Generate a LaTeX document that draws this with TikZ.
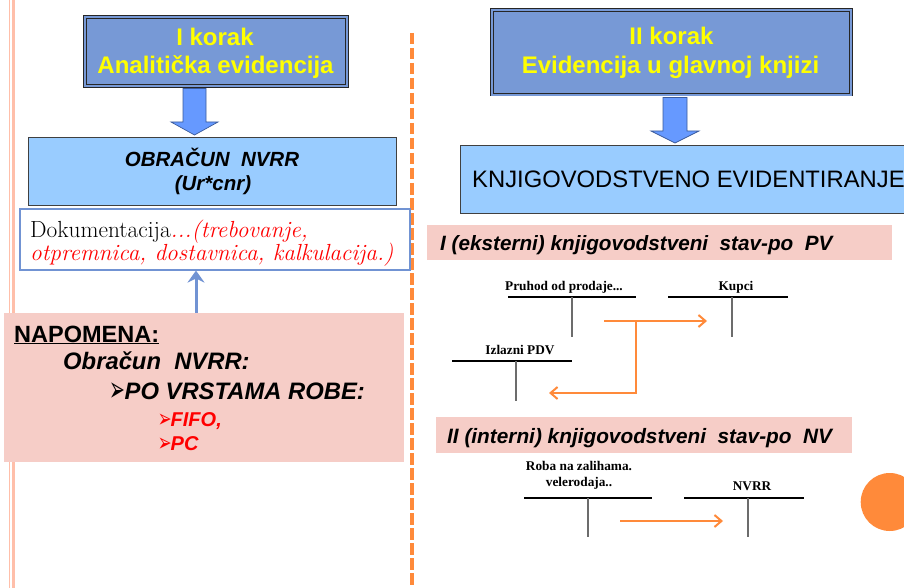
\documentclass[tikz,border=0pt]{standalone}
\usepackage{fontspec}
\usepackage{graphicx}
\newfontfamily\arialf{Liberation Sans}
\newfontfamily\timesf{Liberation Serif}
\newfontfamily\dejavuf{DejaVu Sans}
\usetikzlibrary{arrows.meta}
\definecolor{titleblue}{HTML}{7799D6}
\definecolor{arrowblue}{HTML}{6699FF}
\definecolor{arrowedge}{HTML}{3B5B9B}
\definecolor{lightblue}{HTML}{99CCFF}
\definecolor{docblue}{HTML}{7193D3}
\definecolor{notepink}{HTML}{F6CDC7}
\definecolor{accorange}{HTML}{FF8A3A}
\definecolor{bordpink}{HTML}{FFBFAA}
\definecolor{ttitle}{HTML}{FFFF00}
\definecolor{redtxt}{HTML}{FF0000}
\newcommand{\arrowbullet}{\raisebox{-2pt}{\scalebox{0.7}[1.3]{➢}}}
\newcommand{\arrowbulletsm}{\raisebox{-1pt}{\scalebox{0.75}[1.15]{➢}}}
\tikzset{
  titlebox/.style={draw=black!85, line width=0.9pt, double=titleblue, double distance=2pt, fill=titleblue, inner sep=0pt},
  bluebox/.style={draw=black!75, line width=0.8pt, fill=lightblue, inner sep=0pt},
  titletext/.style={font=\arialf\bfseries\fontsize{24}{28}\selectfont, text=ttitle, inner sep=0pt, anchor=base},
  blockarrow/.style={fill=arrowblue, draw=arrowedge, line width=0.7pt},
  bandbox/.style={fill=notepink, draw=none, inner sep=0pt},
  bandtext/.style={font=\arialf\bfseries\itshape\fontsize{20.7}{24}\selectfont, inner sep=0pt, anchor=base west},
  acclabel/.style={font=\timesf\bfseries\fontsize{13.3}{16}\selectfont, inner sep=0pt, anchor=base},
  acch/.style={draw=black, line width=1.2pt},
  accv/.style={draw=gray!85!black, line width=2pt},
  oarrow/.style={draw=accorange, line width=2pt, -{Straight Barb[length=7pt,width=12pt,line width=2pt]}},
  notetext/.style={inner sep=0pt, anchor=base west},
  bulletbig/.style={inner sep=0pt, anchor=base east, font=\dejavuf\fontsize{27}{30}\selectfont},
  bulletsmall/.style={inner sep=0pt, anchor=base east, font=\dejavuf\fontsize{22}{26}\selectfont, text=redtxt},
}
\begin{document}
\begin{tikzpicture}[x=1pt,y=-1pt]
\useasboundingbox (0,0) rectangle (904,588);
\clip (0,0) rectangle (904,588);
% page decorations
\draw[bordpink, line width=1pt] (9.5,0) -- (9.5,588);
\draw[bordpink, line width=3.5pt] (13.3,0) -- (13.3,588);
\draw[accorange, line width=4pt, dash pattern=on 11.5pt off 3.5pt] (411.5,33) -- (411.5,588);
\fill[accorange] (889.7,502) circle (29);

% ---------- left column ----------
\node[titlebox, minimum width=262pt, minimum height=69pt] (k1) at (216,51.5) {};
\node[titletext] (k1a) at (215,45.7) {I korak};
\node[titletext] (k1b) at (215.5,74) {Analitička evidencija};

\draw[blockarrow] (183,88.5) -- (206,88.5) -- (206,122) -- (218,122) -- (194.5,135) -- (171,122) -- (183,122) -- cycle;

\node[bluebox, minimum width=368pt, minimum height=68pt] (obr) at (212,171) {};
\node[inner sep=0pt, anchor=base, font=\arialf\bfseries\itshape\fontsize{20.5}{24}\selectfont] (obra) at (212,166.7) {OBRAČUN \ NVRR};
\node[inner sep=0pt, anchor=base, font=\arialf\bfseries\itshape\fontsize{20.5}{24}\selectfont] (obrb) at (213,190) {(Ur*cnr)};

\node[draw=docblue, line width=2pt, fill=white, minimum width=390pt, minimum height=60.5pt, inner sep=0pt] (doc) at (215,239.3) {};
\node[notetext, font=\fontsize{23.3}{26}\selectfont] (doca) at (30,237) {Dokumentacija\textcolor{redtxt}{\itshape ...(trebovanje,}};
\node[notetext, font=\fontsize{23.3}{26}\selectfont\itshape, text=redtxt] (docb) at (30,260) {otpremnica, dostavnica, kalkulacija.)};

\node[bandbox, minimum width=400pt, minimum height=148.5pt] (nap) at (204,387.25) {};
\coordinate (upx) at (196,0);
\draw[docblue, line width=3pt, -{Stealth[length=12pt,width=17pt,inset=4pt]}] (nap.north -| upx) -- (doc.south -| upx);

\node[notetext, font=\arialf\bfseries\fontsize{23.5}{27}\selectfont] (napa) at (14,342) {\underline{NAPOMENA:}};
\node[notetext, font=\arialf\bfseries\itshape\fontsize{23.8}{27}\selectfont] (napb) at (63,369) {Obračun \ NVRR:};
\node[bulletbig] (napcb) at (126,399) {\arrowbullet};
\node[notetext, font=\arialf\bfseries\itshape\fontsize{23.8}{27}\selectfont] (napc) at (124.5,399) {PO VRSTAMA ROBE:};
\node[bulletsmall] (napdb) at (172,426) {\arrowbulletsm};
\node[notetext, font=\arialf\bfseries\itshape\fontsize{20}{24}\selectfont, text=redtxt] (napd) at (170.5,426) {FIFO,};
\node[bulletsmall] (napeb) at (172,450) {\arrowbulletsm};
\node[notetext, font=\arialf\bfseries\itshape\fontsize{20}{24}\selectfont, text=redtxt] (nape) at (170.5,450) {PC};

% ---------- right column ----------
\node[titlebox, minimum width=359pt, minimum height=84.5pt] (k2) at (671.5,52.3) {};
\node[titletext] (k2a) at (671.5,45) {II korak};
\node[titletext] (k2b) at (670.5,74) {Evidencija u glavnoj knjizi};

\draw[blockarrow] (663,97.5) -- (687,97.5) -- (687,131) -- (699,131) -- (675,143) -- (651,131) -- (663,131) -- cycle;

\node[bluebox, minimum width=460pt, minimum height=68pt] (knj) at (690,179) {};
\node[notetext, font=\arialf\fontsize{23.8}{28}\selectfont] (knja) at (472,187) {KNJIGOVODSTVENO EVIDENTIRANJE};

\node[bandbox, minimum width=465pt, minimum height=35pt] (b1) at (659.5,242.5) {};
\node[bandtext] (b1t) at (440,250) {I (eksterni) knjigovodstveni \ stav-po \ PV};

% T-accounts, external entry
\node[acclabel] (a1) at (564,290) {Pruhod od prodaje...};
\coordinate (a1l) at (508,297); \coordinate (a1r) at (636,297);
\coordinate (a1t) at (572,297); \coordinate (a1b) at (572,337);
\draw[acch] (a1l) -- (a1r); \draw[accv] (a1t) -- (a1b);

\node[acclabel] (a2) at (736,290) {Kupci};
\coordinate (a2l) at (668,297); \coordinate (a2r) at (788,297);
\coordinate (a2t) at (732,297); \coordinate (a2b) at (732,337);
\draw[acch] (a2l) -- (a2r); \draw[accv] (a2t) -- (a2b);

\node[acclabel] (a3) at (520,354) {Izlazni PDV};
\coordinate (a3l) at (452,361); \coordinate (a3r) at (572,361);
\coordinate (a3t) at (516,361); \coordinate (a3b) at (516,401);
\draw[acch] (a3l) -- (a3r); \draw[accv] (a3t) -- (a3b);

\coordinate (f1s) at (604,321); \coordinate (f1e) at (707,321);
\coordinate (f2s) at (636,321); \coordinate (f2m) at (636,393); \coordinate (f2e) at (549,393);
\draw[oarrow] (f1s) -- (f1e);
\draw[oarrow] (f2s) -- (f2m) -- (f2e);

\node[bandbox, minimum width=416pt, minimum height=36pt] (b2) at (644,435) {};
\node[bandtext, font=\arialf\bfseries\itshape\fontsize{20.8}{24}\selectfont] (b2t) at (447,443) {II (interni) knjigovodstveni \ stav-po \ NV};

% T-accounts, internal entry
\node[acclabel] (a4) at (579,470) {Roba na zalihama.};
\node[acclabel] (a4b) at (579,486) {velerodaja..};
\coordinate (a4l) at (524,498); \coordinate (a4r) at (652,498);
\coordinate (a4t) at (588,498); \coordinate (a4bt) at (588,537);
\draw[acch] (a4l) -- (a4r); \draw[accv] (a4t) -- (a4bt);

\node[acclabel] (a5) at (752,490) {NVRR};
\coordinate (a5l) at (684,498); \coordinate (a5r) at (804,498);
\coordinate (a5t) at (748,498); \coordinate (a5b) at (748,537);
\draw[acch] (a5l) -- (a5r); \draw[accv] (a5t) -- (a5b);

\coordinate (f3s) at (620,521); \coordinate (f3e) at (723,521);
\draw[oarrow] (f3s) -- (f3e);
\end{tikzpicture}
\end{document}
